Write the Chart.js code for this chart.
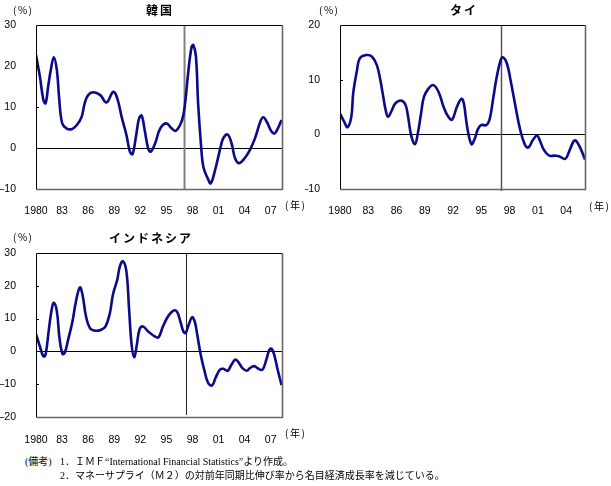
<!DOCTYPE html>
<html><head><meta charset="utf-8">
<script src="https://cdn.jsdelivr.net/npm/chart.js@4.4.1/dist/chart.umd.min.js"></script>
<style>
html,body{margin:0;padding:0;background:#fff;}
body{width:611px;height:486px;position:relative;overflow:hidden;}
canvas{position:absolute;}
.t{position:absolute;white-space:nowrap;line-height:1;color:#000;}
.title{font-family:'Noto Sans CJK JP',sans-serif;font-weight:bold;font-size:12px;letter-spacing:2px;transform:translate(-50%,-50%);}
.unit{font-family:'Noto Sans CJK JP',sans-serif;font-size:10px;letter-spacing:1.5px;transform:translateY(-50%);}
.note{font-family:'Liberation Serif','Noto Sans CJK JP',serif;font-size:10px;transform:translateY(-50%);}
</style></head>
<body>
<canvas id="cKorea" width="305" height="220" style="left:0;top:0;width:305px;height:220px"></canvas>
<canvas id="cThai" width="306" height="220" style="left:305px;top:0;width:306px;height:220px"></canvas>
<canvas id="cIndo" width="305" height="220" style="left:0;top:225px;width:305px;height:220px"></canvas>

<div class="t unit" style="left:13px;top:10px">(%)</div>
<div class="t title" style="left:160px;top:10px">韓国</div>
<div class="t unit" style="left:285px;top:205px">(年)</div>

<div class="t unit" style="left:319px;top:10px">(%)</div>
<div class="t title" style="left:464px;top:10px">タイ</div>
<div class="t unit" style="left:589px;top:206px">(年)</div>

<div class="t unit" style="left:13px;top:237px">(%)</div>
<div class="t title" style="left:151px;top:238px">インドネシア</div>
<div class="t unit" style="left:285px;top:433px">(年)</div>

<div class="t note" style="left:25px;top:462px">(備考)</div>
<div class="t note" style="left:60px;top:462px">1．ＩＭＦ“International Financial Statistics”より作成。</div>
<div class="t note" style="left:60px;top:476px">2．マネーサプライ（Ｍ２）の対前年同期比伸び率から名目経済成長率を減じている。</div>

<script>
// ---------- DATA ----------
const koreaYears = [1980.0,1980.45,1980.85,1981.1,1981.4,1981.7,1982.05,1982.4,1982.65,1983.0,
  1983.5,1984.1,1984.7,1985.25,1985.6,1986.0,1986.6,1987.4,1988.1,1988.9,
  1989.35,1989.85,1990.4,1990.8,1991.1,1991.5,1991.85,1992.15,1992.5,1992.9,
  1993.2,1993.7,1994.3,1995.0,1995.6,1996.1,1996.8,1997.15,1997.5,1997.9,
  1998.1,1998.4,1998.65,1999.0,1999.25,1999.75,2000.1,2000.6,2001.2,2001.55,
  2002.05,2002.5,2002.9,2003.35,2004.0,2004.6,2005.2,2005.8,2006.15,2006.55,
  2007.1,2007.5,2008.25];
const koreaValues = [22.7,17.4,11.7,10.9,15.0,19.0,22.1,19.0,12.5,6.1,
  4.8,4.6,5.6,7.6,10.9,12.9,13.6,12.9,11.1,13.7,
  12.1,7.6,3.2,-0.9,-1.5,2.8,7.2,7.9,4.4,-0.1,
  -0.9,1.1,4.8,6.0,4.8,4.2,6.8,10.9,18.2,24.7,
  25.1,22.3,10.9,0.3,-4.6,-7.4,-8.6,-5.4,-0.1,2.4,
  3.3,1.1,-2.5,-3.7,-2.5,-0.5,2.4,6.4,7.5,6.4,
  4.0,3.6,6.8];

const thaiYears = [1980.0,1980.45,1980.8,1981.2,1981.4,1981.8,1982.1,1982.8,1983.4,1983.9,
  1984.25,1984.6,1984.85,1985.1,1985.5,1985.85,1986.4,1986.9,1987.2,1987.55,
  1987.95,1988.25,1988.6,1988.9,1989.4,1989.9,1990.45,1991.0,1991.5,1991.9,
  1992.4,1992.9,1993.15,1993.5,1993.95,1994.3,1994.65,1995.0,1995.55,1995.9,
  1996.25,1996.6,1997.0,1997.25,1997.7,1998.1,1998.6,1999.1,1999.65,2000.0,
  2000.45,2000.9,2001.2,2001.65,2002.2,2002.8,2003.25,2003.9,2004.3,2004.75,
  2005.0,2005.45,2006.0];
const thaiValues = [3.8,2.3,1.3,3.2,7.5,11.7,13.9,14.5,14.2,12.7,
  10.2,6.8,4.4,3.2,4.4,5.6,6.2,5.6,3.5,-0.2,
  -1.8,0.1,3.8,6.8,8.4,9.0,7.8,5.0,3.2,2.7,
  5.0,6.5,5.6,1.3,-1.8,-0.8,1.0,1.7,1.7,2.9,
  6.5,10.2,13.3,14.1,13.0,9.9,5.3,1.0,-2.0,-2.4,
  -1.1,-0.2,-1.1,-2.9,-3.9,-3.9,-4.0,-4.5,-3.2,-1.4,
  -1.1,-2.3,-4.6];

const indoYears = [1980.0,1980.45,1980.85,1981.1,1981.5,1981.8,1982.05,1982.4,1982.7,1983.05,
  1983.3,1983.7,1984.2,1984.6,1985.05,1985.35,1985.75,1986.2,1986.8,1987.5,
  1988.0,1988.5,1988.85,1989.35,1989.65,1990.0,1990.4,1990.7,1991.0,1991.3,
  1991.6,1991.9,1992.3,1992.9,1993.7,1994.1,1994.6,1995.2,1995.8,1996.2,
  1996.6,1996.95,1997.2,1997.5,1997.95,1998.25,1998.55,1998.95,1999.4,1999.8,
  2000.25,2000.65,2001.15,2001.55,2002.05,2002.5,2002.95,2003.35,2003.75,2004.25,
  2004.6,2005.1,2005.6,2006.05,2006.5,2006.85,2007.1,2007.4,2007.8,2008.25];
const indoValues = [5.3,1.5,-1.5,-1.0,7.1,12.7,14.8,12.2,4.1,-0.8,
  -0.5,3.6,9.2,15.3,19.5,17.3,10.7,7.1,6.3,6.6,
  7.6,11.7,17.3,21.9,25.9,27.5,24.4,13.2,2.0,-1.8,
  2.0,6.6,7.6,6.1,4.5,4.3,7.6,10.7,12.4,12.2,
  9.2,6.1,5.6,7.6,10.4,9.2,5.1,-1.0,-6.1,-9.6,
  -10.4,-8.1,-5.6,-5.3,-5.9,-4.0,-2.5,-3.5,-5.1,-5.9,
  -5.1,-4.5,-5.3,-5.6,-2.5,0.5,0.8,-1.0,-5.6,-10.3];

const tickYearsLong = [1980,1983,1986,1989,1992,1995,1998,2001,2004,2007];
const tickLabelsLong = ['1980','83','86','89','92','95','98','01','04','07'];
const tickYearsThai = [1980,1983,1986,1989,1992,1995,1998,2001,2004];
const tickLabelsThai = ['1980','83','86','89','92','95','98','01','04'];

const crisisKorea = 1997.0, crisisThai = 1997.05, crisisIndo = 1997.2;

// ---------- DRAWING ----------
const LINE = '#0b0b8a';
const tickFont = {family:"'Liberation Sans',sans-serif", size:10.5};

const refLines = {
  id:'refLines',
  beforeDatasetsDraw(chart, args, o){
    const {ctx, chartArea:a, scales:{x,y}} = chart;
    ctx.save();
    const y0 = Math.round(y.getPixelForValue(0)) + 0.5;
    ctx.strokeStyle = '#000'; ctx.lineWidth = 1;
    ctx.beginPath(); ctx.moveTo(a.left, y0); ctx.lineTo(a.right, y0); ctx.stroke();
    const xc = Math.round(x.getPixelForValue(o.crisis)) + 0.5;
    ctx.strokeStyle = o.vColor; ctx.lineWidth = o.vWidth;
    ctx.beginPath(); ctx.moveTo(xc, a.top); ctx.lineTo(xc, a.bottom + o.vExtend); ctx.stroke();
    ctx.restore();
  },
  afterDraw(chart, args, o){
    const {ctx, chartArea:a, scales:{y}} = chart;
    ctx.save();
    ctx.lineWidth = 1;
    ctx.strokeStyle = '#000';
    y.ticks.forEach(t => {
      if (t.value === y.min || t.value === y.max || t.value === 0) return;
      const py = Math.round(y.getPixelForValue(t.value)) + 0.5;
      ctx.beginPath(); ctx.moveTo(a.left, py); ctx.lineTo(a.left + 3, py); ctx.stroke();
    });
    const L = Math.round(a.left) + 0.5, T = Math.round(a.top) + 0.5;
    const R = Math.round(a.right) + 0.5, B = Math.round(a.bottom) + 0.5;
    ctx.beginPath(); ctx.moveTo(L, B); ctx.lineTo(L, T); ctx.lineTo(R, T); ctx.stroke();
    ctx.strokeStyle = '#666'; ctx.lineWidth = 1.6;
    ctx.beginPath(); ctx.moveTo(R, T); ctx.lineTo(R, B); ctx.lineTo(L, B); ctx.stroke();
    ctx.restore();
  }
};

function makeChart(id, years, values, cfg){
  const pts = years.map((yr, i) => ({x: yr, y: values[i]}));
  return new Chart(document.getElementById(id), {
    type: 'line',
    data: { datasets: [{ data: pts, borderColor: LINE, borderWidth: 2.6, pointRadius: 0, tension: 0.4, fill: false }] },
    plugins: [refLines],
    options: {
      responsive: false, animation: false, devicePixelRatio: 1,
      layout: { padding: { top: cfg.padTop, right: cfg.padRight, left: 0, bottom: 0 } },
      plugins: { legend: {display: false}, tooltip: {enabled: false},
        refLines: { crisis: cfg.crisis, vColor: cfg.vColor, vWidth: cfg.vWidth, vExtend: cfg.vExtend } },
      scales: {
        x: {
          type: 'linear', min: 1980, max: cfg.xMax,
          grid: {display: false}, border: {display: false},
          afterBuildTicks: s => { s.ticks = cfg.tickYears.map(v => ({value: v})); },
          afterFit: s => { s.height = cfg.axisH; },
          ticks: { autoSkip: false, maxRotation: 0, padding: cfg.xPad, color: '#000', font: tickFont,
            callback: (v) => { const i = cfg.tickYears.indexOf(v); return i >= 0 ? cfg.tickLabels[i] : ''; } }
        },
        y: {
          min: cfg.yMin, max: cfg.yMax,
          grid: {display: false}, border: {display: false},
          afterFit: s => { s.width = cfg.axisW; },
          ticks: { stepSize: 10, padding: 12, color: '#000', font: tickFont,
            callback: v => (v < 0 ? '\u2013' + Math.abs(v) : String(v)) }
        }
      }
    }
  });
}

makeChart('cKorea', koreaYears, koreaValues, {
  yMin: -10, yMax: 30, xMax: 2008.3, tickYears: tickYearsLong, tickLabels: tickLabelsLong,
  crisis: crisisKorea, vColor: '#808080', vWidth: 2, vExtend: 0,
  axisW: 36, axisH: 31, padTop: 25, padRight: 23, xPad: 8
});
makeChart('cThai', thaiYears, thaiValues, {
  yMin: -10, yMax: 20, xMax: 2006, tickYears: tickYearsThai, tickLabels: tickLabelsThai,
  crisis: crisisThai, vColor: '#555', vWidth: 1.5, vExtend: 2,
  axisW: 35, axisH: 31, padTop: 25, padRight: 26, xPad: 8
});
makeChart('cIndo', indoYears, indoValues, {
  yMin: -20, yMax: 30, xMax: 2008.3, tickYears: tickYearsLong, tickLabels: tickLabelsLong,
  crisis: crisisIndo, vColor: '#222', vWidth: 1, vExtend: -2,
  axisW: 36, axisH: 28, padTop: 28, padRight: 23, xPad: 9
});
</script>
</body></html>
